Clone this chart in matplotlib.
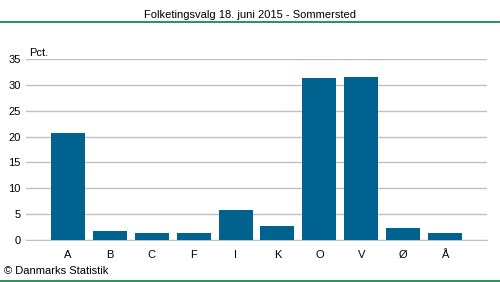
import numpy as np
import matplotlib.pyplot as plt

plt.rcParams['font.family'] = ['Liberation Sans', 'DejaVu Sans']

# Party letters and vote shares (pct.)
parties = ['A', 'B', 'C', 'F', 'I', 'K', 'O', 'V', 'Ø', 'Å']
shares = [20.7, 1.7, 1.4, 1.4, 5.8, 2.7, 31.3, 31.5, 2.3, 1.4]
yticks = [0, 5, 10, 15, 20, 25, 30, 35]

fig = plt.figure(figsize=(5, 2.82), dpi=100)
ax = fig.add_axes([26/500, 1-240/282, 461/500, 181/282])

x = np.arange(len(parties))
ax.bar(x, shares, width=0.81, color='#00628F', zorder=3)

ax.set_xlim(-1, len(parties))
ax.set_ylim(0, 35)
ax.set_yticks(yticks)
ax.set_xticks(x)
ax.set_xticklabels(parties)
ax.grid(axis='y', color='#BFBFC4', linewidth=1, zorder=0)
for s in ['top', 'right', 'left']:
    ax.spines[s].set_visible(False)
ax.spines['bottom'].set_color('#BFBFC4')
ax.tick_params(length=0, labelsize=8, colors='#000000')
ax.tick_params(axis='y', pad=4)
ax.tick_params(axis='x', pad=7)

ax.text(0.006, 1.005, 'Pct.', transform=ax.transAxes, fontsize=8, va='bottom')

fig.text(0.5, 1-15/282, 'Folketingsvalg 18. juni 2015 - Sommersted',
         ha='center', va='center', fontsize=8)
fig.add_artist(plt.Line2D([0, 1], [1-22/282, 1-22/282], color='#008040', linewidth=1.2))
fig.text(4/500, 1-271/282, '© Danmarks Statistik', ha='left', va='center', fontsize=8)
fig.add_artist(plt.Line2D([0, 1], [1-281/282, 1-281/282], color='#008040', linewidth=1.2))

fig.savefig('out.png', dpi=100)
